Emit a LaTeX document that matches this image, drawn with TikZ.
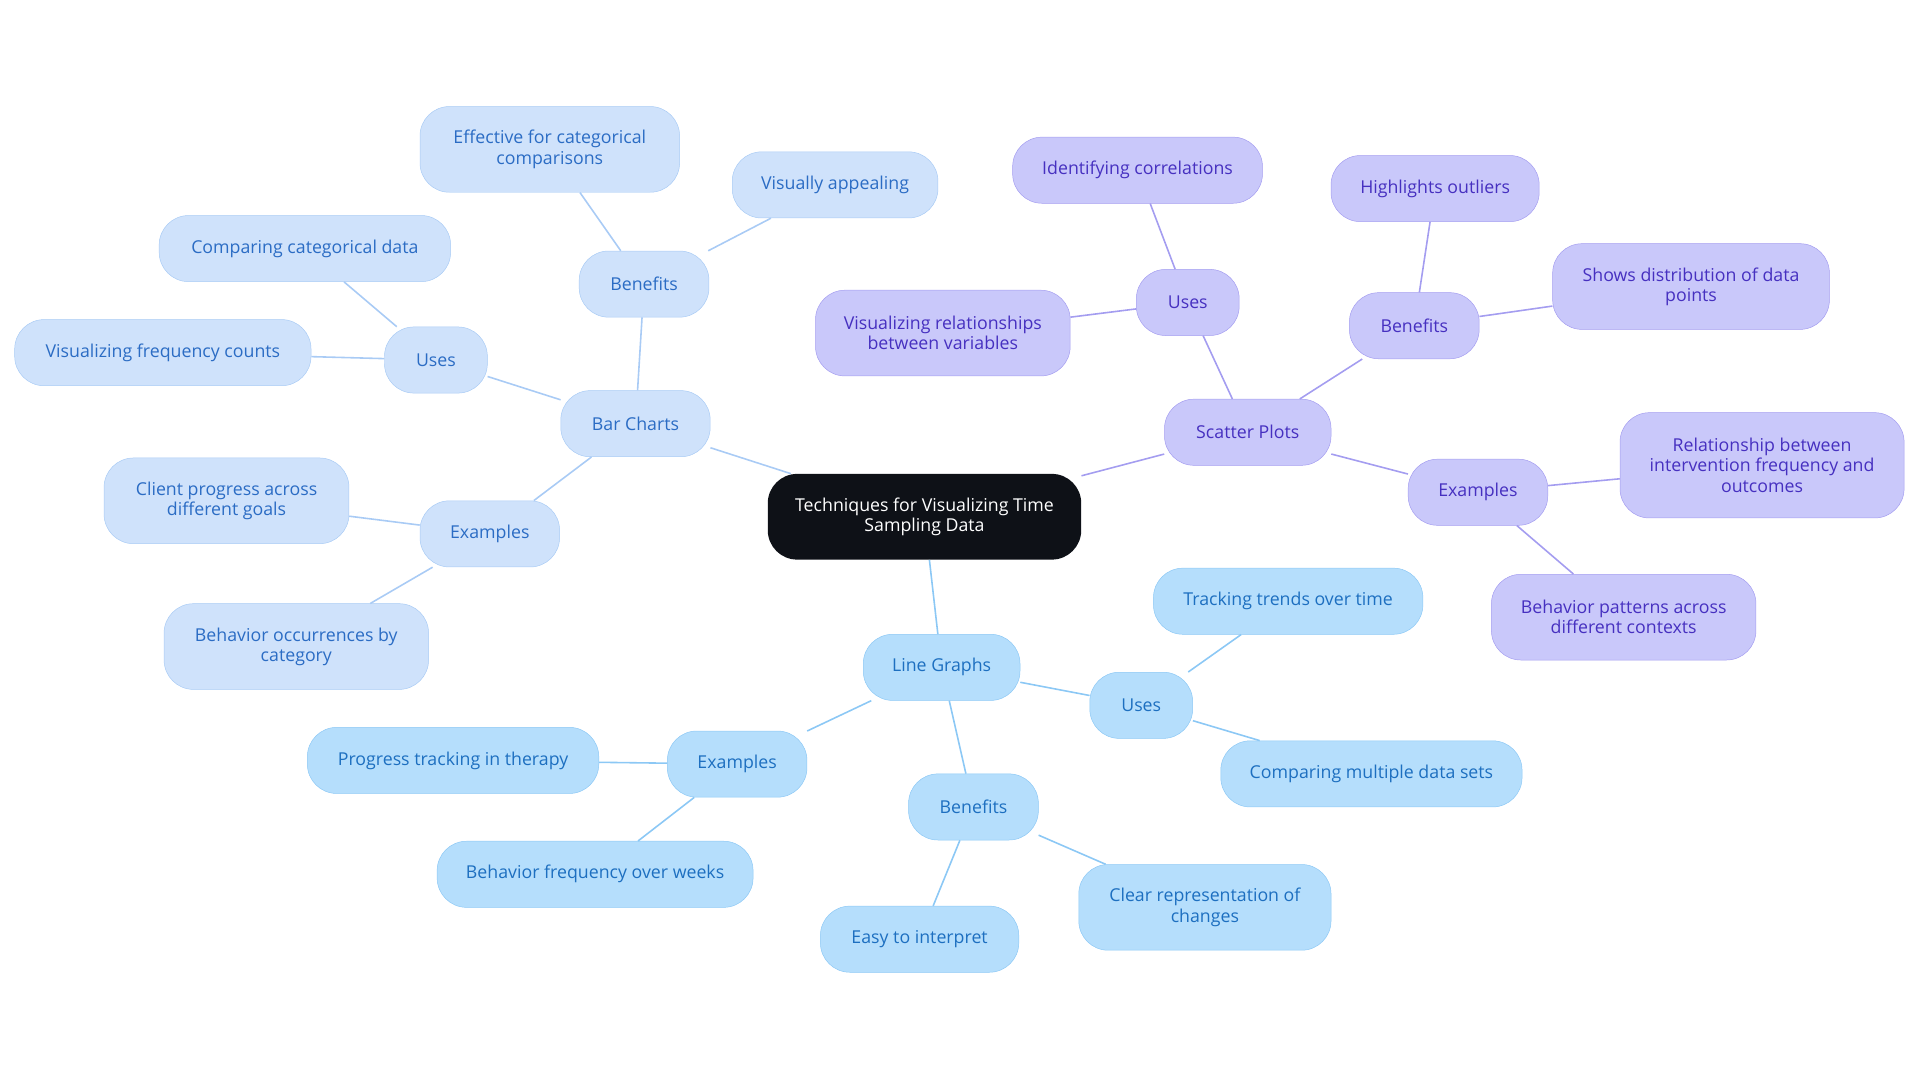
\documentclass[tikz,border=0pt]{standalone}
\usepackage{fontspec}
\setmainfont{Open Sans}
\definecolor{bcf}{HTML}{CFE2FB}\definecolor{bcd}{HTML}{A9CBF5}\definecolor{bct}{HTML}{2B6CC4}
\definecolor{lgf}{HTML}{B5DEFC}\definecolor{lgd}{HTML}{8CC8F5}\definecolor{lgt}{HTML}{1D6FC0}
\definecolor{spf}{HTML}{C9C8FA}\definecolor{spd}{HTML}{A49DF0}\definecolor{spt}{HTML}{4630C0}
\definecolor{rootf}{HTML}{0E1117}
\tikzset{
 base/.style={rounded corners=24pt,align=center,inner sep=0pt,font=\fontsize{14.5}{16.5}\selectfont},
 bc/.style={base,fill=bcf,draw=bcd,text=bct},
 lg/.style={base,fill=lgf,draw=lgd,text=lgt},
 sp/.style={base,fill=spf,draw=spd,text=spt},
 bce/.style={draw=bcd,line width=1.3pt},
 lge/.style={draw=lgd,line width=1.3pt},
 spe/.style={draw=spd,line width=1.3pt},
}
\newcommand{\nd}[6]{\node[#1,minimum width=#4pt,minimum height=#5pt] (#2) at (#3) {#6};}
\begin{document}
\begin{tikzpicture}[x=1pt,y=-1pt]
\useasboundingbox (0,0) rectangle (1568,884);
% edges first
\coordinate (c0) at (0,0);
\begin{scope}[on background layer/.style={}]
\end{scope}
% nodes
\nd{base,fill=rootf,text=white}{root}{755,422}{256}{70}{Techniques for Visualizing Time\\Sampling Data}
\nd{bc}{bar}{519,346}{122}{54}{Bar Charts}
\nd{bc}{bben}{526,232}{106}{54}{Benefits}
\nd{bc}{b1}{449,122}{212}{70}{Effective for categorical\\comparisons}
\nd{bc}{b2}{682,151}{168}{54}{Visually appealing}
\nd{bc}{buse}{356,294}{84}{54}{Uses}
\nd{bc}{b3}{249,203}{238}{54}{Comparing categorical data}
\nd{bc}{b4}{133,288}{242}{54}{Visualizing frequency counts}
\nd{bc}{bex}{400,436}{114}{54}{Examples}
\nd{bc}{b5}{185,409}{200}{70}{Client progress across\\different goals}
\nd{bc}{b6}{242,528}{216}{70}{Behavior occurrences by\\category}
\nd{sp}{sc}{1019,353}{136}{54}{Scatter Plots}
\nd{sp}{suse}{970,247}{84}{54}{Uses}
\nd{sp}{s1}{929,139}{204}{54}{Identifying correlations}
\nd{sp}{s2}{770,272}{208}{70}{Visualizing relationships\\between variables}
\nd{sp}{sben}{1155,266}{106}{54}{Benefits}
\nd{sp}{s3}{1172,154}{170}{54}{Highlights outliers}
\nd{sp}{s4}{1381,234}{226}{70}{Shows distribution of data\\points}
\nd{sp}{sex}{1207,402}{114}{54}{Examples}
\nd{sp}{s5}{1439,380}{232}{86}{Relationship between\\intervention frequency and\\outcomes}
\nd{sp}{s6}{1326,504}{216}{70}{Behavior patterns across\\different contexts}
\nd{lg}{line}{769,545}{128}{54}{Line Graphs}
\nd{lg}{luse}{932,576}{84}{54}{Uses}
\nd{lg}{l1}{1052,491}{220}{54}{Tracking trends over time}
\nd{lg}{l2}{1120,632}{246}{54}{Comparing multiple data sets}
\nd{lg}{lben}{795,659}{106}{54}{Benefits}
\nd{lg}{l3}{751,767}{162}{54}{Easy to interpret}
\nd{lg}{l4}{984,741}{206}{70}{Clear representation of\\changes}
\nd{lg}{lex}{602,624}{114}{54}{Examples}
\nd{lg}{l5}{370,621}{238}{54}{Progress tracking in therapy}
\nd{lg}{l6}{486,714}{258}{54}{Behavior frequency over weeks}
% edges
\draw[bce] (root) -- (bar); \draw[bce] (bar) -- (bben); \draw[bce] (bben) -- (b1); \draw[bce] (bben) -- (b2);
\draw[bce] (bar) -- (buse); \draw[bce] (buse) -- (b3); \draw[bce] (buse) -- (b4);
\draw[bce] (bar) -- (bex); \draw[bce] (bex) -- (b5); \draw[bce] (bex) -- (b6);
\draw[spe] (root) -- (sc); \draw[spe] (sc) -- (suse); \draw[spe] (suse) -- (s1); \draw[spe] (suse) -- (s2);
\draw[spe] (sc) -- (sben); \draw[spe] (sben) -- (s3); \draw[spe] (sben) -- (s4);
\draw[spe] (sc) -- (sex); \draw[spe] (sex) -- (s5); \draw[spe] (sex) -- (s6);
\draw[lge] (root) -- (line); \draw[lge] (line) -- (luse); \draw[lge] (luse) -- (l1); \draw[lge] (luse) -- (l2);
\draw[lge] (line) -- (lben); \draw[lge] (lben) -- (l3); \draw[lge] (lben) -- (l4);
\draw[lge] (line) -- (lex); \draw[lge] (lex) -- (l5); \draw[lge] (lex) -- (l6);
\end{tikzpicture}
\end{document}
